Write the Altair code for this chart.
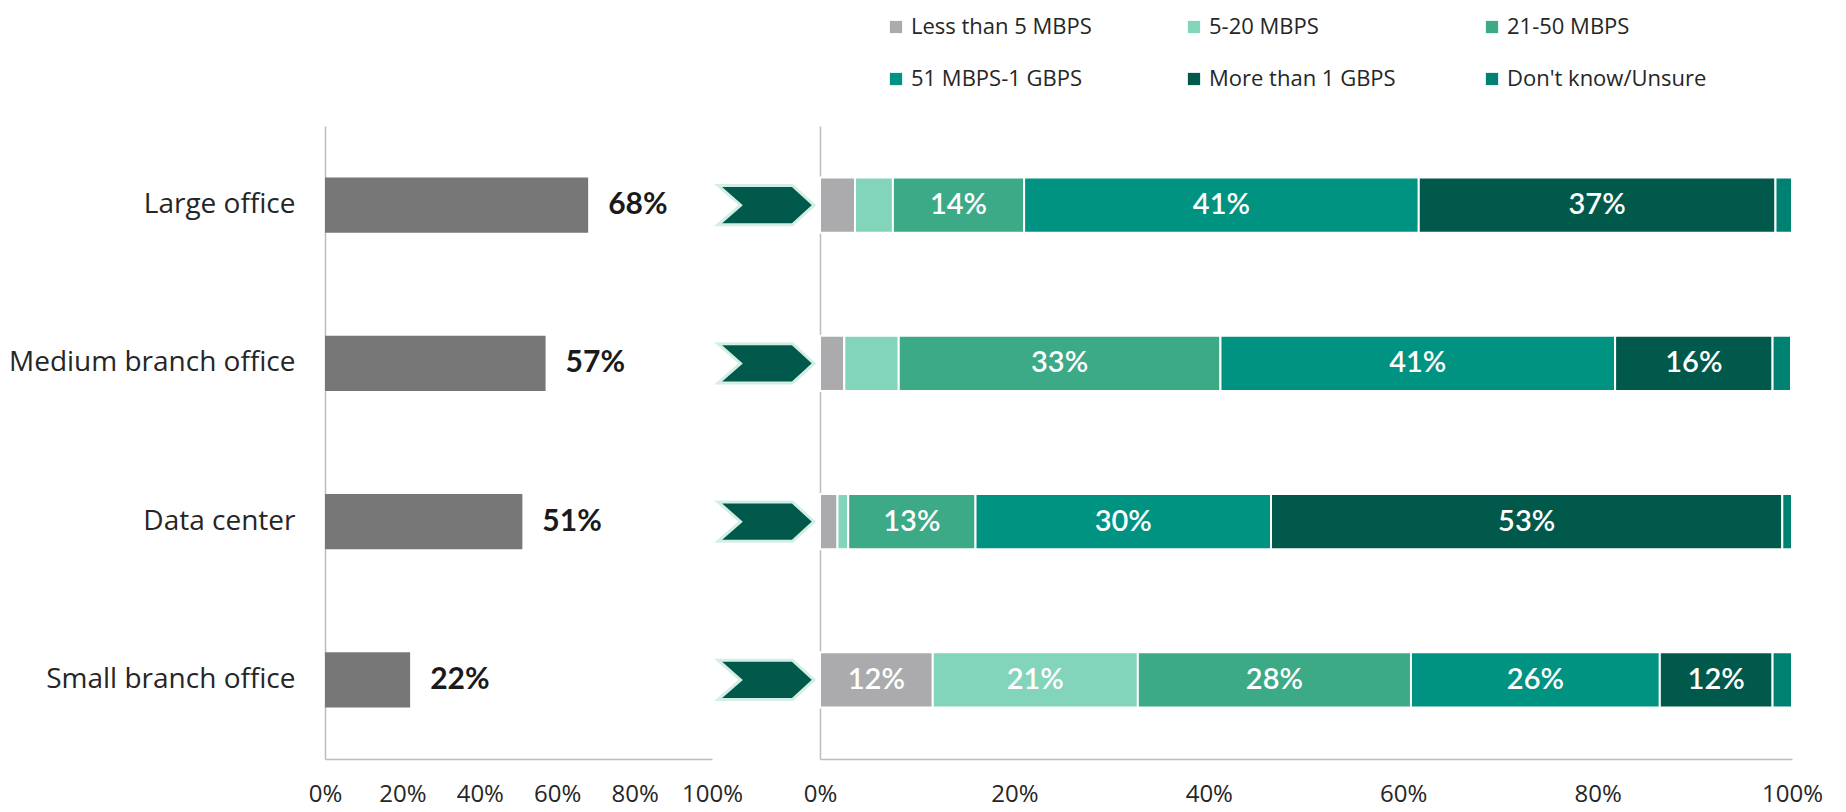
import altair as alt
import pandas as pd

categories = ["Large office", "Medium branch office", "Data center", "Small branch office"]
adoption = [68, 57, 51, 22]

speed_labels = ["Less than 5 MBPS", "5-20 MBPS", "21-50 MBPS",
                "51 MBPS-1 GBPS", "More than 1 GBPS", "Don't know/Unsure"]
less5 = [3.6, 2.5, 1.8, 11.6]
s5_20 = [3.9, 5.6, 1.1, 21.1]
s21_50 = [13.5, 33.1, 13.1, 28.1]
s51_1g = [40.6, 40.6, 30.4, 25.6]
more1g = [36.7, 16.2, 52.6, 11.6]
unsure = [1.7, 1.9, 1.0, 2.0]
speed_colors = ["#ABABAD", "#82D4BA", "#3CA987", "#009382", "#01594B", "#008272"]

axis_font = "Open Sans, sans-serif"
label_font = "Lato, sans-serif"

left_df = pd.DataFrame({"category": categories, "value": adoption})
series = [less5, s5_20, s21_50, s51_1g, more1g, unsure]
rows = []
for si, (name, vals) in enumerate(zip(speed_labels, series)):
    for ci, cat in enumerate(categories):
        rows.append({"category": cat, "speed": name, "order": si, "value": vals[ci]})
right_df = pd.DataFrame(rows)

H = 633
yscale = alt.Scale(domain=categories, paddingInner=0.652, paddingOuter=0.326)
domain_color = "#BDBDBD"

xaxis = alt.Axis(values=[0, 20, 40, 60, 80, 100], labelExpr="datum.value + '%'",
                 ticks=False, grid=False, domainColor=domain_color, domainWidth=1.5,
                 labelFont=axis_font, labelFontSize=24, labelColor="#262626",
                 labelPadding=23, title=None, labelFlush=False)

left_base = alt.Chart(left_df).encode(
    y=alt.Y("category:N", scale=yscale,
            axis=alt.Axis(title=None, ticks=False, labelFont=axis_font, labelFontSize=28,
                          labelColor="#262626", labelPadding=30, domainColor=domain_color,
                          domainWidth=1.5, labelLimit=400)),
    x=alt.X("value:Q", scale=alt.Scale(domain=[0, 100]), axis=xaxis),
)
left_bars = left_base.mark_bar(color="#777778")
left_text = left_base.transform_calculate(lbl="datum.value + '%'").mark_text(
    align="left", baseline="middle", dx=20, font=label_font,
    fontSize=30, fontWeight="bold", color="#1A1A1A").encode(text="lbl:N")
left = (left_bars + left_text).properties(width=387, height=H)

chevron = "M -1 -0.41 L 0.55 -0.41 L 1 0 L 0.55 0.41 L -1 0.41 L -0.53 0 Z"
middle = alt.Chart(left_df).mark_point(shape=chevron, size=9216, filled=True, fill="#01594B",
                                       stroke="#D3EFE5", strokeWidth=3, opacity=1).encode(
    y=alt.Y("category:N", scale=yscale, axis=None),
    x=alt.value(54),
).properties(width=108, height=H)

right_base = alt.Chart(right_df).transform_stack(
    stack="value", groupby=["category"], as_=["x0", "x1"],
    sort=[alt.SortField("order", order="ascending")]
).transform_calculate(mid="(datum.x0 + datum.x1) / 2", lbl="round(datum.value) + '%'")

right_bars = right_base.mark_bar(stroke="white", strokeWidth=2).encode(
    y=alt.Y("category:N", scale=yscale,
            axis=alt.Axis(title=None, labels=False, ticks=False, domainColor=domain_color,
                          domainWidth=1.5)),
    x=alt.X("x0:Q", scale=alt.Scale(domain=[0, 100]), axis=xaxis),
    x2="x1:Q",
    color=alt.Color("speed:N", scale=alt.Scale(domain=speed_labels, range=speed_colors),
                    legend=alt.Legend(title=None, orient="none", legendX=560, legendY=-110,
                                      columns=3, direction="horizontal", symbolType="square",
                                      symbolSize=150, labelFont=axis_font, labelFontSize=22,
                                      labelColor="#262626", rowPadding=30, columnPadding=72,
                                      gridAlign="all", symbolStrokeWidth=0, labelLimit=400)),
)
right_text = right_base.transform_filter("datum.value >= 10").mark_text(
    align="center", baseline="middle", font=label_font, fontSize=29, fontWeight=600,
    color="white"
).encode(
    y=alt.Y("category:N", scale=yscale),
    x=alt.X("mid:Q", scale=alt.Scale(domain=[0, 100])),
    text="lbl:N",
)
right = (right_bars + right_text).properties(width=972, height=H)

chart = alt.hconcat(left, middle, right, spacing=0, bounds="flush").properties(
    padding={"left": 0, "top": 8, "right": 5, "bottom": 4}
).configure_view(stroke=None)

chart.save("out.html", embed_options={"renderer": "svg", "actions": False})
